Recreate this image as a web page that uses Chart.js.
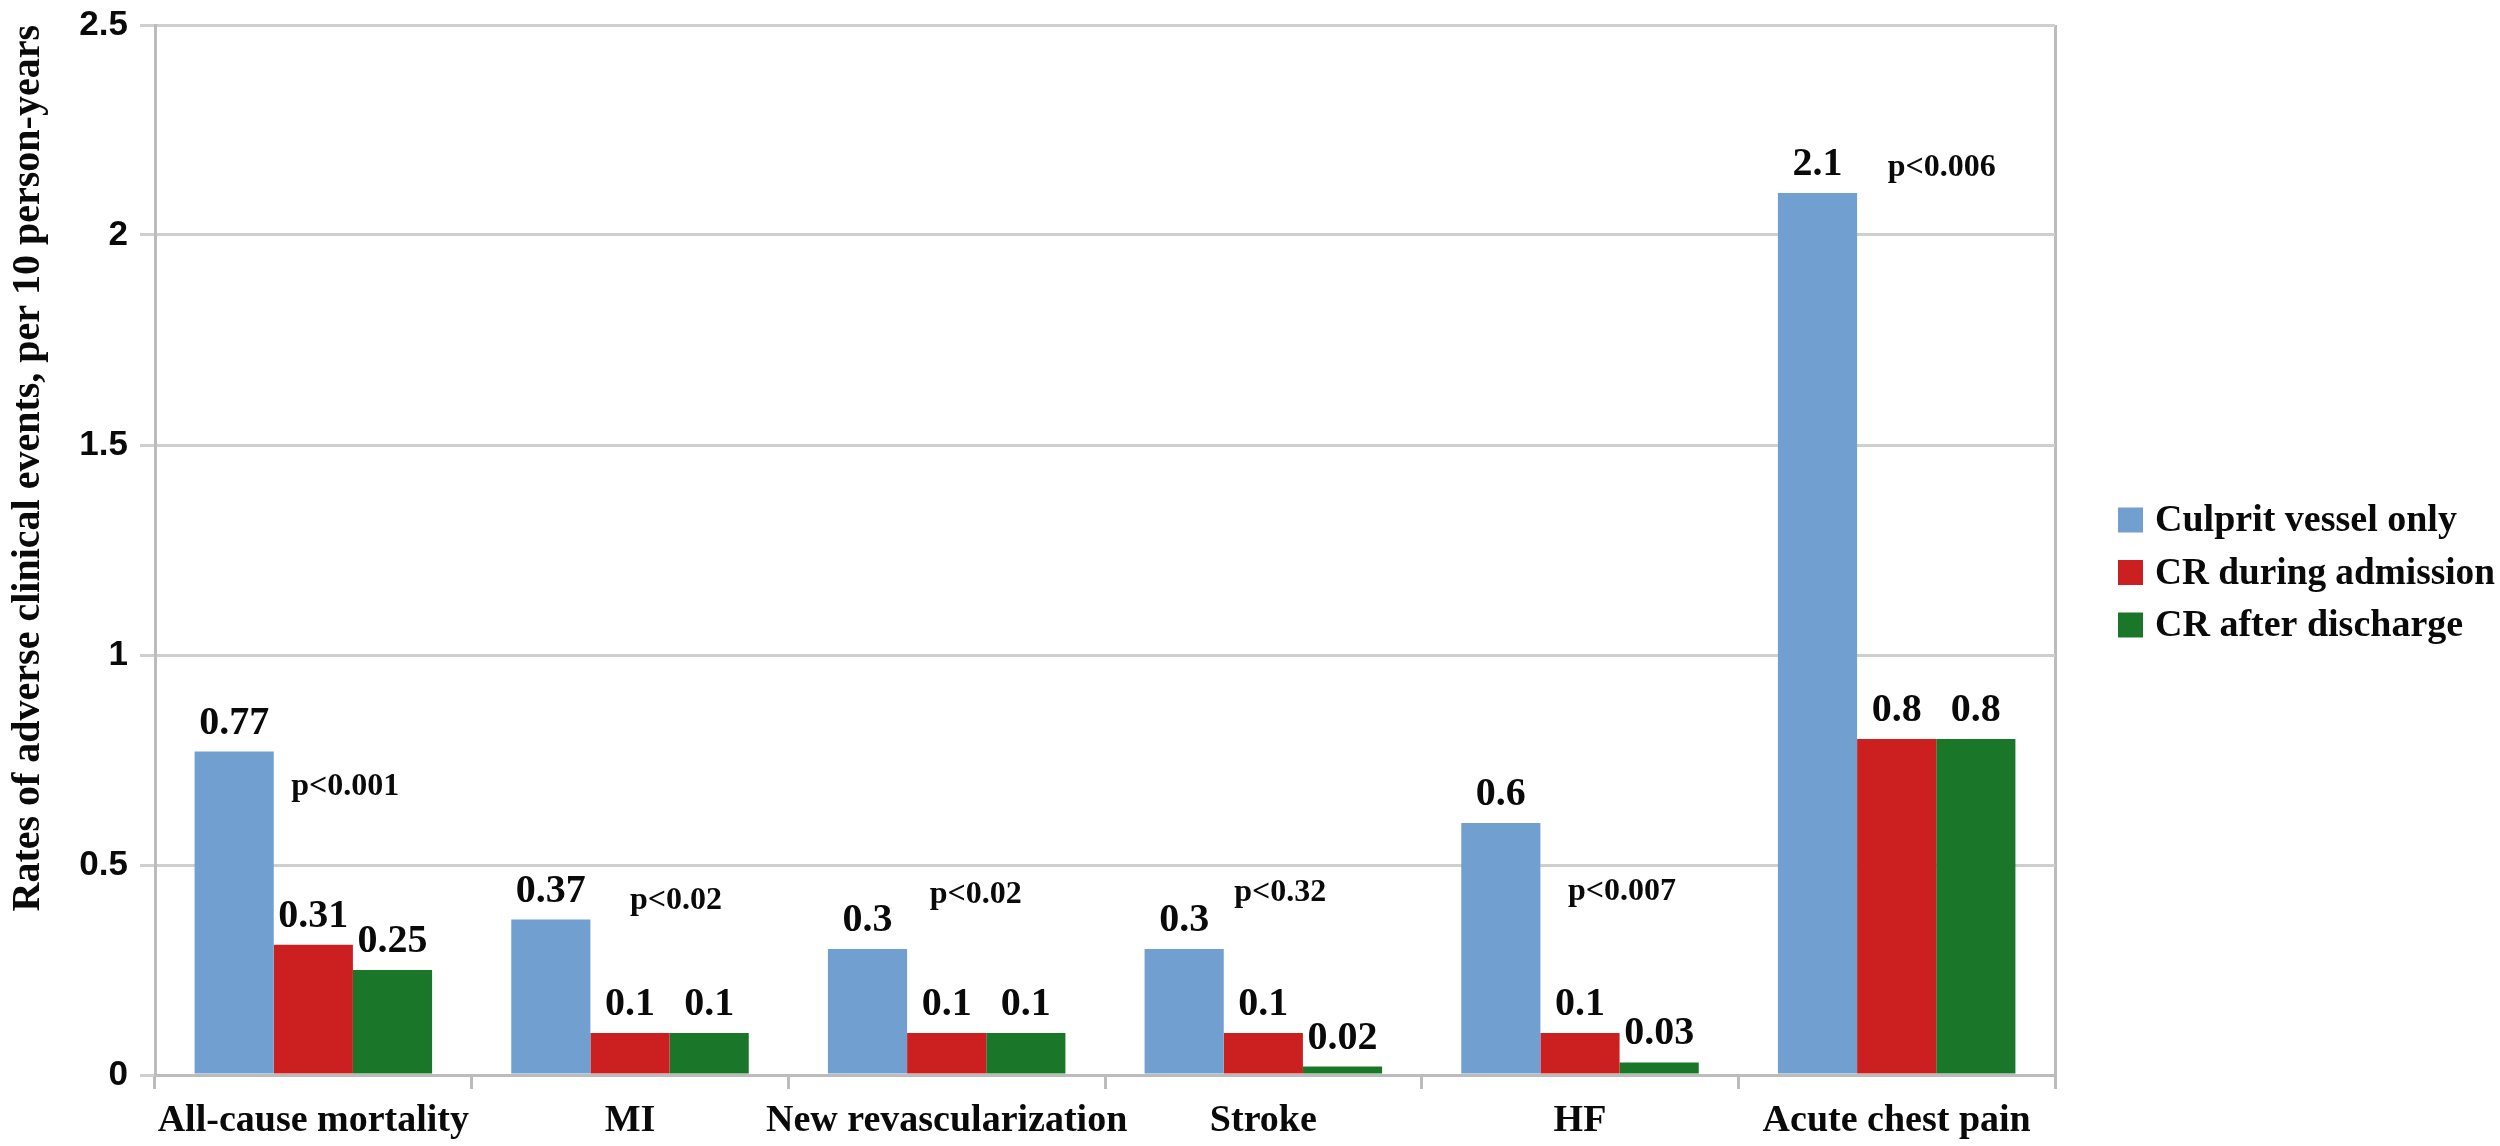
<!DOCTYPE html>
<html>
<head>
<meta charset="utf-8">
<script src="https://cdn.jsdelivr.net/npm/chart.js@4.4.0/dist/chart.umd.min.js"></script>
<style>
html, body { margin: 0; padding: 0; background: #fff; }
#wrap { width: 2500px; height: 1146px; }
</style>
</head>
<body>
<div id="wrap"><canvas id="chart" width="2500" height="1146"></canvas></div>
<script>
/* ---- dados ---- */
var CATEGORIES   = ['All-cause mortality', 'MI', 'New revascularization', 'Stroke', 'HF', 'Acute chest pain'];
var SERIES_NAMES = ['Culprit vessel only', 'CR during admission', 'CR after discharge'];
var CULPRIT      = [0.77, 0.37, 0.3, 0.3, 0.6, 2.1];
var CR_ADMISSION = [0.31, 0.1, 0.1, 0.1, 0.1, 0.8];
var CR_DISCHARGE = [0.25, 0.1, 0.1, 0.02, 0.03, 0.8];
var P_TEXT       = ['p<0.001', 'p<0.02', 'p<0.02', 'p<0.32', 'p<0.007', 'p<0.006'];
var P_LEVEL      = [0.686, 0.414, 0.43, 0.433, 0.436, 2.16];   // altura do texto, em unidades do eixo y
var Y_MIN = 0, Y_MAX = 2.5, Y_STEP = 0.5;

/* ---- estilo ---- */
var COLORS  = ['#719fd0', '#cc2020', '#1a7629'];
var SERIF   = '"Liberation Serif", "Times New Roman", serif';
var SANS    = '"Liberation Sans", Arial, sans-serif';
var GRID    = '#cfcfcf';
var AXIS    = '#bcbcbc';
var INK     = '#0a0a0a';
var P_SHIFT = [32, 46, 29, 17, 42, 45];   // deslocamento horizontal do p-valor (px)

/* rótulos de valor sobre as barras + p-valores */
var barLabels = {
    id: 'barLabels',
    afterDatasetsDraw: function(chart) {
        var ctx = chart.ctx;
        ctx.save();
        ctx.fillStyle = INK;
        ctx.textAlign = 'center';
        ctx.textBaseline = 'alphabetic';
        ctx.font = 'bold 40px ' + SERIF;
        chart.data.datasets.forEach(function(ds, i) {
            chart.getDatasetMeta(i).data.forEach(function(bar, j) {
                ctx.fillText(String(ds.data[j]), bar.x, bar.y - 18);
            });
        });
        var xs = chart.scales.x, ys = chart.scales.y;
        ctx.font = 'bold 32px ' + SERIF;
        ctx.textBaseline = 'middle';
        P_TEXT.forEach(function(t, j) {
            ctx.fillText(t, xs.getPixelForValue(j) + P_SHIFT[j], ys.getPixelForValue(P_LEVEL[j]));
        });
        ctx.restore();
    }
};

/* legenda à direita */
var sideLegend = {
    id: 'sideLegend',
    afterDraw: function(chart) {
        var ctx = chart.ctx, a = chart.chartArea;
        var x = a.right + 63;
        var mid = (a.top + a.bottom) / 2 + 22;
        ctx.save();
        ctx.font = 'bold 38px ' + SERIF;
        ctx.textAlign = 'left';
        ctx.textBaseline = 'middle';
        chart.data.datasets.forEach(function(ds, i) {
            var cy = mid + (i - 1) * 52.5;
            ctx.fillStyle = ds.backgroundColor;
            ctx.fillRect(x, cy - 12, 25, 25);
            ctx.fillStyle = INK;
            ctx.fillText(ds.label, x + 37, cy + 2, 340);
        });
        ctx.restore();
    }
};

var series = [CULPRIT, CR_ADMISSION, CR_DISCHARGE];

new Chart(document.getElementById('chart'), {
    type: 'bar',
    data: {
        labels: CATEGORIES,
        datasets: series.map(function(d, i) {
            return {
                label: SERIES_NAMES[i],
                data: d,
                backgroundColor: COLORS[i],
                borderWidth: 0,
                barPercentage: 1.0,
                categoryPercentage: 0.75
            };
        })
    },
    options: {
        responsive: false,
        devicePixelRatio: 1,
        animation: false,
        layout: { padding: { top: 25, right: 445, left: 0, bottom: 0 } },
        plugins: {
            legend: { display: false },
            tooltip: { enabled: false }
        },
        scales: {
            x: {
                grid: {
                    offset: true,
                    drawOnChartArea: true,
                    color: function(c) { return c.type === 'scale' ? AXIS : 'transparent'; },
                    tickColor: AXIS,
                    lineWidth: 3,
                    tickLength: 14
                },
                border: { display: true, color: AXIS, width: 3 },
                ticks: { color: INK, font: { family: SERIF, size: 38, weight: 'bold' }, padding: 9, maxRotation: 0, autoSkip: false },
                afterFit: function(s) { s.height = 71; }
            },
            y: {
                min: Y_MIN, max: Y_MAX,
                ticks: {
                    stepSize: Y_STEP, color: INK, padding: 12,
                    font: { family: SANS, size: 35, weight: 'bold' },
                    callback: function(v) { return String(v); }
                },
                grid: { color: GRID, lineWidth: 3, tickLength: 15, tickColor: GRID },
                border: { display: true, color: AXIS, width: 3 },
                title: {
                    display: true,
                    text: 'Rates of adverse clinical events, per 10 person-years',
                    align: 'end',
                    color: INK,
                    font: { family: SERIF, size: 40, weight: 'bold' },
                    padding: { top: 5, bottom: 0 }
                },
                afterFit: function(s) {
                    s.width = 155;
                    s.paddingTop = 0;
                    s.paddingBottom = 0;
                }
            }
        }
    },
    plugins: [barLabels, sideLegend]
});
</script>
</body>
</html>
